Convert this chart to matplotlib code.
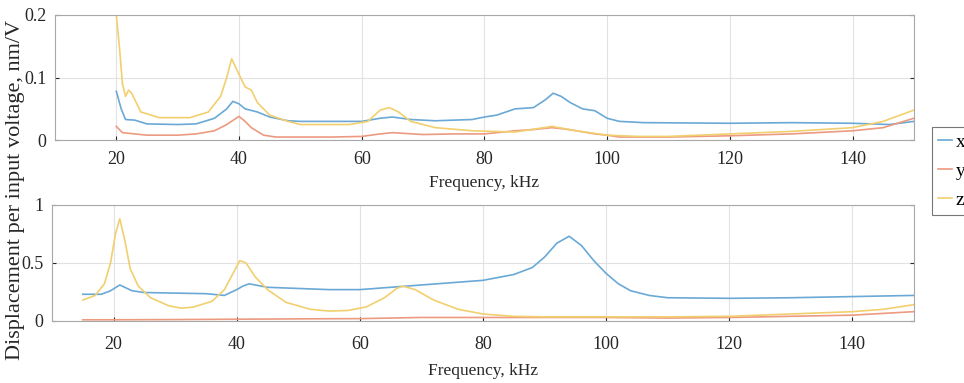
import matplotlib
matplotlib.use("Agg")
import matplotlib.pyplot as plt
import numpy as np

plt.rcParams['font.family'] = ['Liberation Serif', 'DejaVu Serif']

# Top panel (nm/V), frequency in kHz
f_top_x = [20, 20.8, 21.5, 23, 25, 30, 33, 36, 38, 39, 40, 41, 43, 45, 48, 50, 55, 60, 63, 65, 68, 72, 78,
           80, 82, 85, 88, 90, 91.2, 92.5, 94, 96, 98, 100, 102, 106, 120, 130, 140, 146, 150]
x_top = [0.078, 0.05, 0.033, 0.032, 0.026, 0.025, 0.026, 0.035, 0.05, 0.062, 0.058, 0.05, 0.045, 0.037,
         0.031, 0.03, 0.03, 0.03, 0.035, 0.037, 0.033, 0.031, 0.033, 0.037, 0.04, 0.05, 0.052, 0.065, 0.075,
         0.07, 0.06, 0.05, 0.047, 0.035, 0.03, 0.028, 0.027, 0.028, 0.027, 0.025, 0.03]

f_top_y = [20, 21, 23, 25, 30, 33, 36, 38, 40, 41, 42, 44, 46, 50, 55, 60, 63, 65, 70, 75, 80, 85, 88, 91,
           93, 95, 98, 100, 102, 110, 120, 130, 140, 145, 150]
y_top = [0.022, 0.012, 0.01, 0.008, 0.008, 0.01, 0.015, 0.025, 0.038, 0.03, 0.02, 0.008, 0.005, 0.005, 0.005,
         0.006, 0.01, 0.012, 0.009, 0.01, 0.01, 0.015, 0.017, 0.02, 0.018, 0.015, 0.01, 0.008, 0.005, 0.005,
         0.007, 0.01, 0.015, 0.02, 0.035]

f_top_z = [20, 20.5, 21, 21.5, 22, 22.5, 24, 27, 32, 35, 37, 38, 38.8, 40, 41, 42, 43, 45, 48, 50, 58, 61, 63,
           64.5, 66, 68, 72, 78, 85, 91, 95, 100, 105, 110, 120, 130, 140, 145, 150]
z_top = [0.2, 0.15, 0.09, 0.07, 0.08, 0.075, 0.045, 0.036, 0.036, 0.045, 0.07, 0.1, 0.13, 0.105, 0.085, 0.08,
         0.06, 0.04, 0.03, 0.025, 0.025, 0.03, 0.048, 0.052, 0.045, 0.03, 0.02, 0.015, 0.013, 0.022, 0.015, 0.008,
         0.006, 0.006, 0.01, 0.014, 0.02, 0.03, 0.048]

# Bottom panel
f_bot_x = [15, 18, 19.5, 21, 23, 25, 30, 35, 38, 40, 41, 42, 45, 50, 55, 60, 65, 70, 75, 80, 85, 88, 90, 92,
           94, 96, 98, 100, 102, 104, 107, 110, 120, 130, 140, 150]
x_bot = [0.23, 0.23, 0.26, 0.31, 0.26, 0.245, 0.24, 0.235, 0.22, 0.27, 0.3, 0.32, 0.29, 0.28, 0.27, 0.27, 0.29,
         0.31, 0.33, 0.35, 0.4, 0.46, 0.55, 0.67, 0.73, 0.65, 0.52, 0.41, 0.32, 0.26, 0.22, 0.2, 0.195, 0.2,
         0.21, 0.22]

f_bot_y = [15, 20, 30, 40, 50, 60, 70, 80, 90, 100, 110, 120, 130, 140, 150]
y_bot = [0.01, 0.01, 0.012, 0.015, 0.018, 0.02, 0.03, 0.03, 0.03, 0.03, 0.025, 0.03, 0.04, 0.05, 0.08]

f_bot_z = [15, 17, 18.5, 19.5, 20.3, 21, 21.8, 22.7, 24, 26, 29, 31, 33, 36, 38, 39.5, 40.5, 41.5, 43, 45, 48,
           52, 55, 58, 61, 64, 66, 67, 69, 72, 76, 80, 85, 90, 100, 110, 120, 130, 140, 145, 150]
z_bot = [0.18, 0.22, 0.32, 0.5, 0.75, 0.88, 0.7, 0.45, 0.3, 0.2, 0.13, 0.11, 0.12, 0.17, 0.27, 0.42, 0.52, 0.5,
         0.38, 0.27, 0.16, 0.1, 0.085, 0.09, 0.12, 0.2, 0.28, 0.3, 0.27, 0.18, 0.1, 0.06, 0.04, 0.035, 0.035,
         0.035, 0.04, 0.06, 0.08, 0.1, 0.14]

c_x = '#6aa9d6'
c_y = '#ec9a80'
c_z = '#f2cf6e'

fig = plt.figure(figsize=(9.64, 3.83), dpi=100)
ax1 = fig.add_axes([0.057, 0.634, 0.891, 0.327])
ax2 = fig.add_axes([0.054, 0.162, 0.894, 0.303])

ax1.plot(f_top_x, x_top, color=c_x, lw=1.2, label='x')
ax1.plot(f_top_y, y_top, color=c_y, lw=1.2, label='y')
ax1.plot(f_top_z, z_top, color=c_z, lw=1.2, label='z')
ax1.set_ylim(0, 0.2)
ax1.set_yticks([0, 0.1, 0.2])
ax1.set_yticklabels(['0', '0.1', '0.2'])

ax2.plot(f_bot_x, x_bot, color=c_x, lw=1.2)
ax2.plot(f_bot_y, y_bot, color=c_y, lw=1.2)
ax2.plot(f_bot_z, z_bot, color=c_z, lw=1.2)
ax2.set_ylim(0, 1)
ax2.set_yticks([0, 0.5, 1])
ax2.set_yticklabels(['0', '0.5', '1'])

for ax, xpad, lpad in ((ax1, 8, 5), (ax2, 11, 7)):
    ax.set_xlim(10, 150)
    ax.set_xticks([20, 40, 60, 80, 100, 120, 140])
    ax.grid(True, color='#e2e2e2', lw=0.8)
    ax.tick_params(direction='in', labelsize=13, colors='#262626', length=3, top=False, right=True)
    ax.tick_params(axis='x', pad=xpad)
    ax.tick_params(axis='y', pad=6)
    for s in ax.spines.values():
        s.set_color('#a8a8a8')
    ax.set_xlabel('Frequency, kHz', fontsize=12.5, color='#262626', labelpad=lpad)

fig.text(0.016, 0.505, 'Displacement per input voltage, nm/V', rotation=90, va='center', ha='center',
         fontsize=16, color='#262626')

leg = fig.legend(loc='upper left', bbox_to_anchor=(0.967, 0.668), fontsize=14, frameon=True,
                 fancybox=False, edgecolor='#555555', handlelength=0.7, handletextpad=0.2,
                 borderpad=0.3, labelspacing=0.6, borderaxespad=0)
leg.get_frame().set_linewidth(0.8)

plt.savefig('out.png', dpi=100)
